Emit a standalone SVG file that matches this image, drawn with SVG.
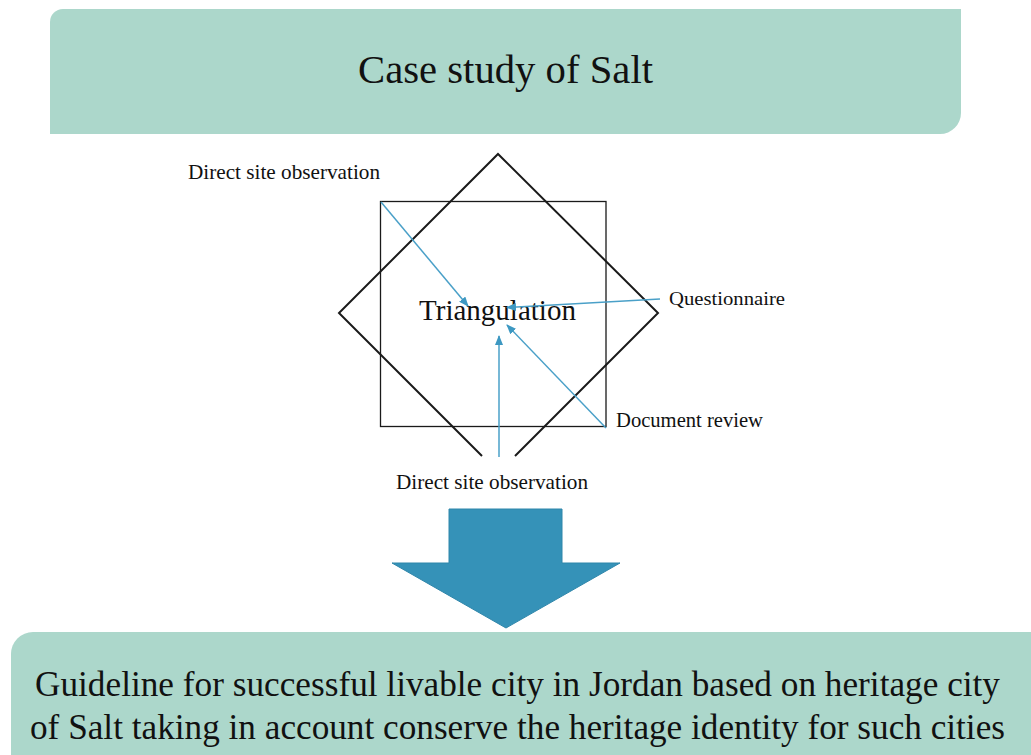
<svg xmlns="http://www.w3.org/2000/svg" width="1031" height="755" viewBox="0 0 1031 755">
<defs>
<style>
.box{fill:#acd7cb}
.t{fill:#111;font-family:'Liberation Serif','Times New Roman',Times,serif}
.shape{fill:none;stroke:#1a1a1a}
.con{stroke:#4aa0c8;stroke-width:1.5;fill:none;marker-end:url(#ah)}
</style>
<marker id="ah" viewBox="0 0 10 8" refX="9" refY="4" markerWidth="10" markerHeight="8" markerUnits="userSpaceOnUse" orient="auto">
<path d="M0,0 L10,4 L0,8 Z" fill="#3d98c2"/>
</marker>
</defs>
<rect width="1031" height="755" fill="#ffffff"/>
<g id="top-box">
<path class="box" d="M63,9 H961 V113 A21,21 0 0 1 940,134 H50 V22 A13,13 0 0 1 63,9 Z"/>
<text class="t" x="505.5" y="83" font-size="39" text-anchor="middle" textLength="295" lengthAdjust="spacingAndGlyphs">Case study of Salt</text>
</g>
<g id="triangulation">
<rect class="shape" x="380.5" y="201.5" width="225.5" height="225" stroke-width="1.3"/>
<path class="shape" stroke-width="2" d="M482,456 L339,313 L498,154 L658,313 L515,456"/>
<text class="t" x="497.5" y="320" font-size="29" text-anchor="middle">Triangulation</text>
</g>
<g id="label-direct-top"><text class="t" x="188" y="179" font-size="21" textLength="192" lengthAdjust="spacingAndGlyphs">Direct site observation</text></g>
<g id="label-questionnaire"><text class="t" x="669" y="305" font-size="19" textLength="116" lengthAdjust="spacingAndGlyphs">Questionnaire</text></g>
<g id="label-document"><text class="t" x="616" y="427" font-size="20" textLength="147" lengthAdjust="spacingAndGlyphs">Document review</text></g>
<g id="label-direct-bottom"><text class="t" x="396" y="489" font-size="21" textLength="192" lengthAdjust="spacingAndGlyphs">Direct site observation</text></g>
<g id="connectors">
<line class="con" x1="381" y1="202" x2="468" y2="306"/>
<line class="con" x1="660" y1="299" x2="507" y2="307.5"/>
<line class="con" x1="606" y1="428" x2="507" y2="325"/>
<line class="con" x1="499" y1="457" x2="499" y2="336"/>
</g>
<g id="big-arrow">
<path d="M449,509 H562 V563 H620 L506,628 L392,563 H449 Z" fill="#3592b8" stroke="#2f86aa" stroke-width="1"/>
</g>
<g id="bottom-box">
<path class="box" d="M33,632 H1031 V755 H11 V654 A22,22 0 0 1 33,632 Z"/>
<text class="t" x="517.5" y="696" font-size="35" text-anchor="middle" textLength="965" lengthAdjust="spacingAndGlyphs">Guideline for successful livable city in Jordan based on heritage city</text>
<text class="t" x="517.5" y="739" font-size="35" text-anchor="middle" textLength="975" lengthAdjust="spacingAndGlyphs">of Salt taking in account conserve the heritage identity for such cities</text>
</g>
</svg>
